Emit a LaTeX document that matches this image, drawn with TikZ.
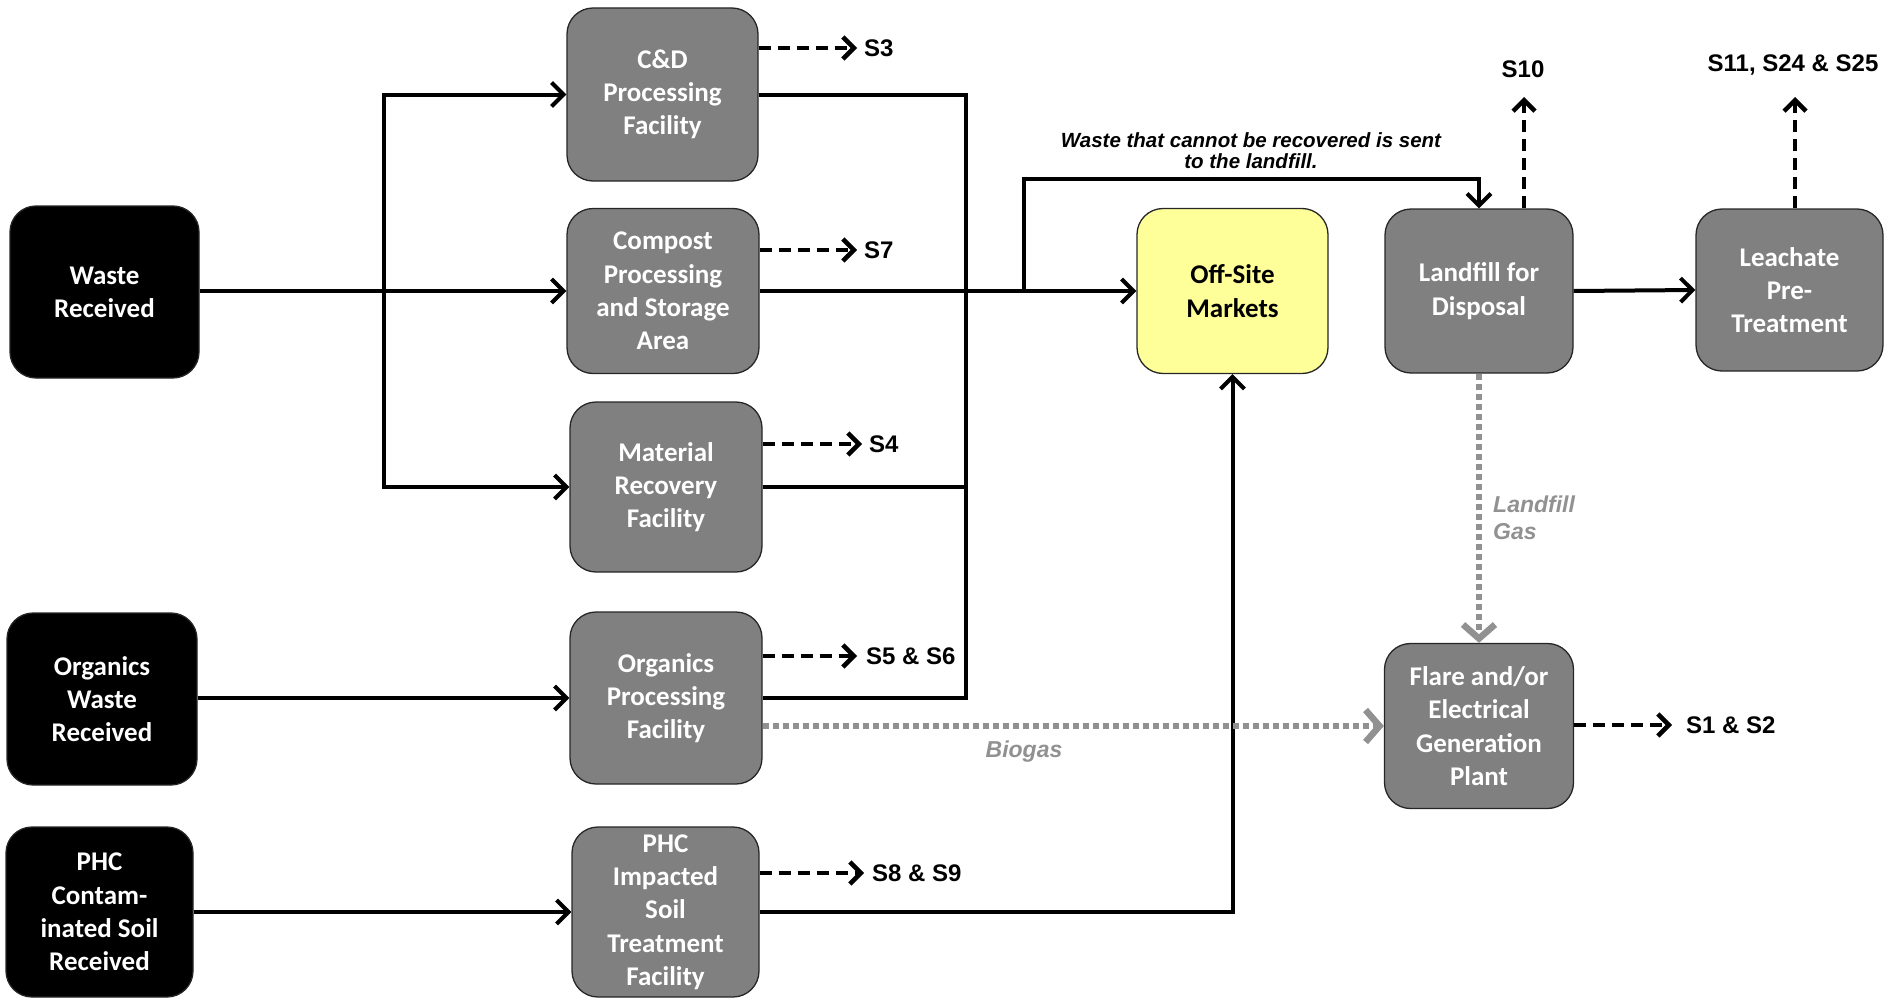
\documentclass[tikz,border=0pt]{standalone}
\usepackage{fontspec}
\setmainfont{Carlito}
\newfontfamily\arialf{Liberation Sans}
\usetikzlibrary{arrows.meta}
\definecolor{boxgray}{RGB}{128,128,128}
\definecolor{gasgray}{RGB}{145,145,145}
\definecolor{offyellow}{RGB}{255,255,153}
\begin{document}
\begin{tikzpicture}[x=1pt,y=-1pt,
  box/.style={draw=black!85, line width=1.3pt, rounded corners=26pt, fill=boxgray, text=white,
    font=\fontsize{27}{33.3}\selectfont\bfseries, align=center, inner sep=0pt},
  srcbox/.style={box, fill=black},
  mktbox/.style={box, fill=offyellow, text=black},
  conn/.style={line width=4pt},
  arr/.style={conn, -{Straight Barb[length=12pt,width=24pt]}},
  darr/.style={line width=4.5pt, dash pattern=on 12pt off 7pt, -{Straight Barb[length=11pt,width=22pt]}},
  garr/.style={gasgray, line width=6.5pt, dash pattern=on 6pt off 4pt, -{Straight Barb[length=14pt,width=32pt]}},
  slab/.style={font=\arialf\fontsize{24}{28}\selectfont\bfseries, inner sep=0pt},
  glab/.style={text=gasgray, font=\arialf\fontsize{23}{27}\selectfont\bfseries\itshape, inner sep=0pt},
]
\useasboundingbox (0,0) rectangle (1893,998);

% source boxes
\node[srcbox, minimum width=189pt, minimum height=172pt] (wr) at (104.5,292) {Waste\\Received};
\node[srcbox, minimum width=190pt, minimum height=172pt] (owr) at (102,699) {Organics\\Waste\\Received};
\node[srcbox, minimum width=187pt, minimum height=170pt] (phcr) at (99.5,912) {PHC\\Contam-\\inated Soil\\Received};

% processing boxes
\node[box, minimum width=191pt, minimum height=173pt] (cd) at (662.5,94.5) {C\&D\\Processing\\Facility};
\node[box, minimum width=192pt, minimum height=165pt] (comp) at (663,291) {Compost\\Processing\\and Storage\\Area};
\node[box, minimum width=192pt, minimum height=170pt] (mrf) at (666,487) {Material\\Recovery\\Facility};
\node[box, minimum width=192pt, minimum height=172pt] (opf) at (666,698) {Organics\\Processing\\Facility};
\node[box, minimum width=187pt, minimum height=170pt] (phc) at (665.5,912) {PHC\\Impacted\\Soil\\Treatment\\Facility};

% right boxes
\node[mktbox, minimum width=191pt, minimum height=165pt] (osm) at (1232.5,291) {Off-Site\\Markets};
\node[box, minimum width=188pt, minimum height=164pt] (lf) at (1479,291) {Landfill for\\Disposal};
\node[box, minimum width=187pt, minimum height=162pt] (lea) at (1789.5,290) {Leachate\\Pre-\\Treatment};
\node[box, minimum width=189pt, minimum height=165pt] (fl) at (1479,726) {Flare and/or\\Electrical\\Generation\\Plant};

% waste distribution
\coordinate (jb) at (384,291);
\draw[arr] (wr.east |- jb) -- (comp.west);
\draw[arr] (jb) |- (cd.west);
\draw[arr] (jb) |- (mrf.west);
\draw[arr] (owr.east |- opf.west) -- (opf.west);
\draw[arr] (phcr.east) -- (phc.west);

% collector
\coordinate (coll) at (966,698);
\draw[conn] (cd.east) -| (coll) -- (opf.east);
\draw[conn] (mrf.east) -- (mrf.east -| coll);
\draw[arr] (comp.east) -- (osm.west);

% recovered to landfill
\coordinate (rj) at (1024,291);
\coordinate (rt) at (1024,179);
\draw[arr] (rj) -- (rt) -| (lf.north);
\node[font=\arialf\fontsize{20.5}{21}\selectfont\bfseries\itshape, align=center, inner sep=0pt] (note) at (1251,151)
  {Waste that cannot be recovered is sent\\to the landfill.};

% PHC to markets
\draw[arr] (phc.east) -| (osm.south);

% landfill to leachate
\draw[arr] (lf.east) -- (lea.west);

% emissions
\coordinate (s3) at (857,48);
\draw[darr] (cd.east |- s3) -- (s3);
\node[slab, anchor=west] (s3l) at (864,48) {S3};
\coordinate (s7) at (857,250);
\draw[darr] (comp.east |- s7) -- (s7);
\node[slab, anchor=west] (s7l) at (864,250) {S7};
\coordinate (s4) at (862,444);
\draw[darr] (mrf.east |- s4) -- (s4);
\node[slab, anchor=west] (s4l) at (869,444) {S4};
\coordinate (s56) at (857,656);
\draw[darr] (opf.east |- s56) -- (s56);
\node[slab, anchor=west] (s56l) at (866,656) {S5 \& S6};
\coordinate (s89) at (864,873);
\draw[darr] (phc.east |- s89) -- (s89);
\node[slab, anchor=west] (s89l) at (872,873) {S8 \& S9};

\coordinate (s10) at (1524,97);
\draw[darr] (lf.north -| s10) -- (s10);
\node[slab] (s10l) at (1523,69) {S10};
\coordinate (s11) at (1795,97);
\draw[darr] (lea.north -| s11) -- (s11);
\node[slab] (s11l) at (1793,65) {S11, S24 \& S25};

\coordinate (s12) at (1672,725);
\draw[darr] (fl.east |- s12) -- (s12);
\node[slab, anchor=west] (s12l) at (1686,725) {S1 \& S2};

% gas
\draw[garr] (lf.south) -- (fl.north);
\node[glab, anchor=west, align=left] (lgas) at (1493,518) {Landfill\\Gas};
\draw[garr] (fl.west -| opf.east) -- (fl.west);
\node[glab] (bio) at (1024,752) {Biogas};
\end{tikzpicture}
\end{document}
